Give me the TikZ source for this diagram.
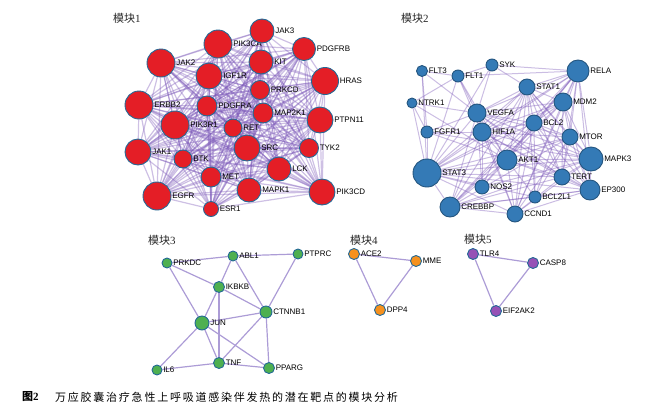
\documentclass[tikz,border=0pt]{standalone}
\usepackage{fontspec}
\setmainfont{Liberation Sans}
\newfontfamily\cjk{Noto Sans CJK SC}
\newfontfamily\cjkcap[LetterSpace=16]{Noto Sans CJK SC}
\newfontfamily\serifnum{Liberation Serif}
\usetikzlibrary{backgrounds}
\definecolor{redn}{RGB}{228,30,38}
\definecolor{bluen}{RGB}{52,122,182}
\definecolor{greenn}{RGB}{78,176,80}
\definecolor{orangen}{RGB}{246,145,30}
\definecolor{purplen}{RGB}{150,82,182}
\definecolor{rim}{RGB}{35,105,150}
\definecolor{edgec}{RGB}{125,90,185}
\definecolor{edgel}{RGB}{172,156,214}
\begin{document}
\begin{tikzpicture}[x=1pt,y=-1pt,
  lbl/.style={font=\fontsize{8}{8}\selectfont, inner sep=0.6pt, text=black},
  gn/.style={circle, draw=rim, line width=0.9pt, inner sep=0pt, label distance=0pt},
  rn/.style={gn, fill=redn},
  bn/.style={gn, fill=bluen, draw=bluen!70!black},
  grn/.style={gn, fill=greenn},
  on/.style={gn, fill=orangen},
  pn/.style={gn, fill=purplen},
  e1/.style={draw=edgec, opacity=0.38, line width=1.2pt},
  e2/.style={draw=edgec, opacity=0.4, line width=1pt},
  e3/.style={draw=edgel, line width=1.2pt},
  ttl/.style={font=\fontsize{11}{11}\selectfont, text=black!85, inner sep=0pt, anchor=west}]
\useasboundingbox (0,0) rectangle (647,413);

% titles
\node[ttl] (t1) at (113,18) {{\cjk 模块}{\serifnum 1}};
\node[ttl] (t2) at (401,18) {{\cjk 模块}{\serifnum 2}};
\node[ttl] (t3) at (148,240) {{\cjk 模块}{\serifnum 3}};
\node[ttl] (t4) at (350,240) {{\cjk 模块}{\serifnum 4}};
\node[ttl] (t5) at (464,239) {{\cjk 模块}{\serifnum 5}};

% module 1
\foreach \n/\x/\y/\r in {PIK3CA/218/44/14, JAK3/262/31/12, PDGFRB/304/49/11.5, JAK2/161/63/14,
  IGF1R/209/76/13, KIT/261/62/12, HRAS/325/81/13.5, PRKCD/260/90/9.5, ERBB2/139/105/14,
  PDGFRA/207/106/10, MAP2K1/263/113/10, PTPN11/320/120/13, PIK3R1/175/125/14, RET/233/128/9,
  SRC/247/148/13, TYK2/309/148/9.5, JAK1/138/152/13, BTK/183/159/9, LCK/279/169/12,
  MET/211/177/10, EGFR/157/196/14, MAPK1/249/190/12, PIK3CD/322/192/13, ESR1/211/209/7.5}
  \node[rn, minimum size={2*\r}, label={[lbl]right:\n}] (\n) at (\x,\y) {};

% module 2
\foreach \n/\x/\y/\r in {FLT3/422/71/5.5, FLT1/458/76/6, SYK/492/65/6, NTRK1/412/103/5,
  VEGFA/477/113/9, RELA/578/71/11, STAT1/527/87/8, MDM2/563/102/9, FGFR1/427/132/6,
  HIF1A/482/132/9, BCL2/534/123/8, MTOR/570/137/8, STAT3/427/173/14, AKT1/507/160/10,
  MAPK3/591/159/12, NOS2/482/187/7, TERT/562/177/8, EP300/590/190/10, BCL2L1/535/197/6,
  CREBBP/450/207/10, CCND1/515/214/8}
  \node[bn, minimum size={2*\r}, label={[lbl]right:\n}] (\n) at (\x,\y) {};

% module 3
\foreach \n/\x/\y/\r in {PRKDC/167/263/5, ABL1/233/256/5, PTPRC/298/254/5, IKBKB/219/287/5.5,
  CTNNB1/266/312/6, JUN/202/323/7, IL6/157/370/5, TNF/219/363/5.5, PPARG/269/368/5.5}
  \node[grn, minimum size={2*\r}, label={[lbl]right:\n}] (\n) at (\x,\y) {};

% module 4
\foreach \n/\x/\y in {ACE2/354/254, MME/416/261, DPP4/380/310}
  \node[on, minimum size=11, label={[lbl]right:\n}] (\n) at (\x,\y) {};

% module 5
\foreach \n/\x/\y in {TLR4/473/254, CASP8/533/263, EIF2AK2/496/311}
  \node[pn, minimum size=11, label={[lbl]right:\n}] (\n) at (\x,\y) {};

\begin{pgfonlayer}{background}
\def\mone{PIK3CA,JAK3,PDGFRB,JAK2,IGF1R,KIT,HRAS,PRKCD,ERBB2,PDGFRA,MAP2K1,PTPN11,PIK3R1,RET,SRC,TYK2,JAK1,BTK,LCK,MET,EGFR,MAPK1,PIK3CD,ESR1}
\foreach \a [count=\i] in \mone {
  \foreach \b [count=\j] in \mone {
    \ifnum\j>\i \draw[e1] (\a) -- (\b); \fi
  }
}
\def\mtwo{VEGFA,HIF1A,STAT3,AKT1,MAPK3,RELA,STAT1,MTOR,BCL2,MDM2,EP300,CREBBP,TERT,CCND1}
\foreach \a [count=\i] in \mtwo {
  \foreach \b [count=\j] in \mtwo {
    \ifnum\j>\i \draw[e2] (\a) -- (\b); \fi
  }
}
\foreach \a/\b in {FLT3/FLT1, FLT3/VEGFA, FLT3/FGFR1, FLT3/STAT3, FLT1/SYK, FLT1/VEGFA,
  FLT1/NTRK1, FLT1/HIF1A, FLT1/STAT3, FLT1/AKT1, FLT1/RELA, SYK/RELA, SYK/STAT1, SYK/STAT3,
  SYK/VEGFA, NTRK1/FGFR1, NTRK1/STAT3, NTRK1/VEGFA, NTRK1/AKT1, FGFR1/STAT3, FGFR1/HIF1A,
  FGFR1/VEGFA, FGFR1/AKT1, FGFR1/MAPK3, NOS2/STAT3, NOS2/HIF1A, NOS2/AKT1, NOS2/VEGFA,
  NOS2/RELA, NOS2/STAT1, NOS2/MAPK3, BCL2L1/STAT3, BCL2L1/AKT1, BCL2L1/BCL2, BCL2L1/MTOR,
  BCL2L1/STAT1, BCL2L1/RELA, BCL2L1/EP300, BCL2L1/CREBBP}
  \draw[e2] (\a) -- (\b);
\foreach \a/\b in {PRKDC/ABL1, ABL1/PTPRC, PRKDC/IKBKB, PRKDC/JUN, ABL1/IKBKB, ABL1/CTNNB1,
  PTPRC/CTNNB1, IKBKB/CTNNB1, IKBKB/JUN, IKBKB/TNF, JUN/CTNNB1, JUN/IL6, JUN/TNF, JUN/PPARG,
  CTNNB1/TNF, CTNNB1/PPARG, IL6/TNF, TNF/PPARG, ACE2/MME, ACE2/DPP4, MME/DPP4,
  TLR4/CASP8, TLR4/EIF2AK2, CASP8/EIF2AK2}
  \draw[e3] (\a) -- (\b);
\end{pgfonlayer}

% caption
\node[anchor=west, inner sep=0pt, font=\fontsize{11}{11}\selectfont\bfseries] (capa) at (22,397) {{\cjk 图}{\serifnum 2}};
\node[anchor=west, inner sep=0pt, font=\fontsize{11}{11}\selectfont] (capb) at (55,397) {\cjkcap 万应胶囊治疗急性上呼吸道感染伴发热的潜在靶点的模块分析};
\end{tikzpicture}
\end{document}
